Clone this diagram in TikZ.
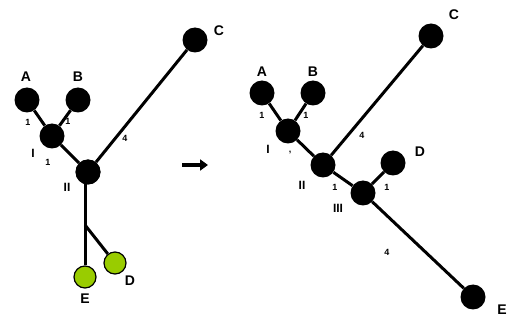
\documentclass[tikz,border=0pt]{standalone}
\usepackage{fontspec}
\setmainfont{Liberation Sans}
\usetikzlibrary{arrows.meta}
\definecolor{leafgreen}{RGB}{153,204,0}
\tikzset{
  taxon/.style={circle, fill=black, minimum size=25pt, inner sep=0pt},
  newtaxon/.style={circle, fill=leafgreen, draw=black, line width=1.2pt, minimum size=22pt, inner sep=0pt},
  branch/.style={line width=3pt},
  taxlabel/.style={font=\bfseries\fontsize{14}{14}\selectfont, inner sep=0pt},
  nodelabel/.style={font=\bfseries\fontsize{12}{12}\selectfont, inner sep=0pt},
  lenlabel/.style={font=\bfseries\fontsize{9}{9}\selectfont, inner sep=0pt},
}
\begin{document}
\begin{tikzpicture}[x=1pt, y=-1pt]
\useasboundingbox (0,0) rectangle (531,326);

% ---- tree before inserting the new taxon ----
\node[taxon] (lA) at (27,100) {};
\node[taxon] (lB) at (78,100) {};
\node[taxon] (lI) at (52,136) {};
\node[taxon] (lII) at (88,172) {};
\node[taxon] (lC) at (195,40) {};
\node[newtaxon] (lE) at (85,277) {};
\node[newtaxon] (lD) at (115,263) {};
\coordinate (lsplit) at (85,225);
\coordinate (ltop) at (85,172);

\draw[branch] (lA) -- (lI);
\draw[branch] (lB) -- (lI);
\draw[branch] (lI) -- (lII);
\draw[branch] (lII) -- (lC);
\draw[branch] (ltop) -- (lsplit) -- (lE);
\draw[branch] (lsplit) -- (lD);

\node[taxon] at (lII) {};
\node[taxlabel] (tlA) at (26,77) {A};
\node[taxlabel] (tlB) at (78,77) {B};
\node[taxlabel] (tlC) at (219,31) {C};
\node[taxlabel] (tlE) at (85,299) {E};
\node[taxlabel] (tlD) at (130,281) {D};
\node[nodelabel] (tlI) at (33,153) {I};
\node[nodelabel] (tlII) at (67,187) {II};
\node[lenlabel] at (28,122) {1};
\node[lenlabel] at (68,121) {1};
\node[lenlabel] at (48,162) {1};
\node[lenlabel] at (125,138) {4};

% ---- arrow ----
\coordinate (arrs) at (182,165);
\coordinate (arre) at (208,165);
\draw[line width=3.5pt, -{Triangle[length=8pt,width=11pt]}] (arrs) -- (arre);

% ---- tree after inserting the new taxon ----
\node[taxon] (rA) at (262,93) {};
\node[taxon] (rB) at (313,93) {};
\node[taxon] (rI) at (288,131) {};
\node[taxon] (rII) at (323,165) {};
\node[taxon] (rC) at (431,36) {};
\node[taxon] (rIII) at (363,193) {};
\node[taxon] (rD) at (393,163) {};
\node[taxon] (rE) at (473,297) {};

\draw[branch] (rA) -- (rI);
\draw[branch] (rB) -- (rI);
\draw[branch] (rI) -- (rII);
\draw[branch] (rII) -- (rC);
\draw[branch] (rII) -- (rIII);
\draw[branch] (rIII) -- (rD);
\draw[branch] (rIII) -- (rE);

\node[taxlabel] (trA) at (262,72) {A};
\node[taxlabel] (trB) at (313,72) {B};
\node[taxlabel] (trC) at (454,15) {C};
\node[taxlabel] (trD) at (420,152) {D};
\node[taxlabel] (trE) at (502,310) {E};
\node[nodelabel] (trI) at (268,149) {I};
\node[nodelabel] (trII) at (302,185) {II};
\node[nodelabel] (trIII) at (338,208) {III};
\node[lenlabel] at (262,115) {1};
\node[lenlabel] at (306,115) {1};
\node[lenlabel] at (290,153) {,};
\node[lenlabel] at (335,187) {1};
\node[lenlabel] at (362,135) {4};
\node[lenlabel] at (387,187) {1};
\node[lenlabel] at (387,252) {4};
\end{tikzpicture}
\end{document}
